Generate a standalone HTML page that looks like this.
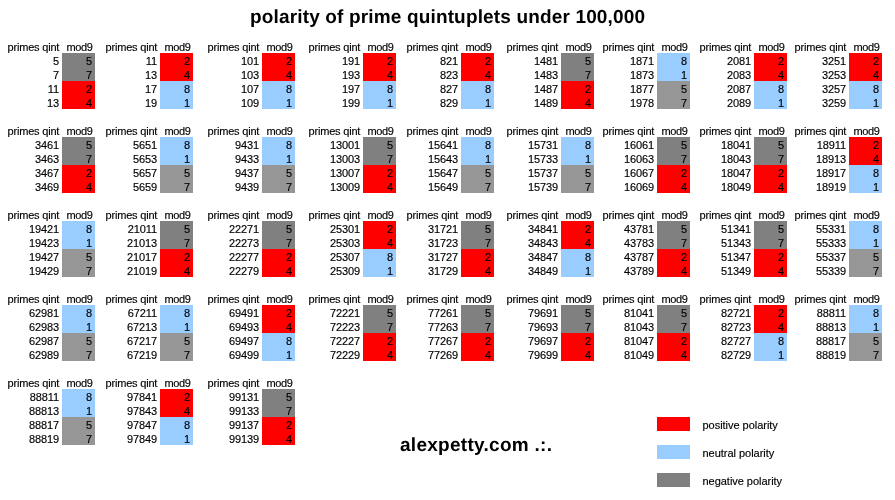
<!DOCTYPE html>
<html><head><meta charset="utf-8"><title>polarity of prime quintuplets under 100,000</title>
<style>
html,body{margin:0;padding:0;background:#fff}
body{width:895px;height:500px;position:relative;overflow:hidden;font-family:"Liberation Sans",Arial,sans-serif;color:#000}
.blk{position:absolute;width:87px;font-size:11px;line-height:14px;-webkit-text-stroke:0.15px #000}
.blk div{height:14px;white-space:nowrap;position:relative}
.blk span{position:absolute;top:0;height:14px}
.blk .p{top:1px}.blk .m{line-height:16px}
.h{top:1px!important}
.p{left:0;width:51px;text-align:right;letter-spacing:-0.12px}
.hp{left:-0.4px;width:54px;text-align:left;letter-spacing:-0.2px}
.m{left:54px;width:30px;padding-right:3px;text-align:right}
.blk .hm{background:none;letter-spacing:-0.4px;line-height:14px;padding-right:2.6px;width:30.4px}
.g{background:#808080}.l{background:#969696}.r{background:#ff0000}.b{background:#99ccff}
.t{position:absolute;font-weight:bold;font-size:19px;line-height:22px;text-rendering:geometricPrecision;white-space:nowrap}
.sw{position:absolute;left:657px;width:33px;height:14px}
.lg{position:absolute;left:702.5px;font-size:11px;line-height:14px;white-space:nowrap;letter-spacing:-0.03px;-webkit-text-stroke:0.15px #000}
</style></head><body>
<div class="t" style="left:250px;top:7px;letter-spacing:0.155px">polarity of prime quintuplets under 100,000</div>
<div class="blk" style="left:8px;top:39px"><div><span class="p hp h">primes qint</span><span class="m hm h">mod9</span></div><div><span class="p">5</span><span class="m g">5</span></div><div><span class="p">7</span><span class="m g">7</span></div><div><span class="p">11</span><span class="m r">2</span></div><div><span class="p">13</span><span class="m r">4</span></div></div>
<div class="blk" style="left:106px;top:39px"><div><span class="p hp h">primes qint</span><span class="m hm h">mod9</span></div><div><span class="p">11</span><span class="m r">2</span></div><div><span class="p">13</span><span class="m r">4</span></div><div><span class="p">17</span><span class="m b">8</span></div><div><span class="p">19</span><span class="m b">1</span></div></div>
<div class="blk" style="left:208px;top:39px"><div><span class="p hp h">primes qint</span><span class="m hm h">mod9</span></div><div><span class="p">101</span><span class="m r">2</span></div><div><span class="p">103</span><span class="m r">4</span></div><div><span class="p">107</span><span class="m b">8</span></div><div><span class="p">109</span><span class="m b">1</span></div></div>
<div class="blk" style="left:309px;top:39px"><div><span class="p hp h">primes qint</span><span class="m hm h">mod9</span></div><div><span class="p">191</span><span class="m r">2</span></div><div><span class="p">193</span><span class="m r">4</span></div><div><span class="p">197</span><span class="m b">8</span></div><div><span class="p">199</span><span class="m b">1</span></div></div>
<div class="blk" style="left:407px;top:39px"><div><span class="p hp h">primes qint</span><span class="m hm h">mod9</span></div><div><span class="p">821</span><span class="m r">2</span></div><div><span class="p">823</span><span class="m r">4</span></div><div><span class="p">827</span><span class="m b">8</span></div><div><span class="p">829</span><span class="m b">1</span></div></div>
<div class="blk" style="left:507px;top:39px"><div><span class="p hp h">primes qint</span><span class="m hm h">mod9</span></div><div><span class="p">1481</span><span class="m g">5</span></div><div><span class="p">1483</span><span class="m g">7</span></div><div><span class="p">1487</span><span class="m r">2</span></div><div><span class="p">1489</span><span class="m r">4</span></div></div>
<div class="blk" style="left:603px;top:39px"><div><span class="p hp h">primes qint</span><span class="m hm h">mod9</span></div><div><span class="p">1871</span><span class="m b">8</span></div><div><span class="p">1873</span><span class="m b">1</span></div><div><span class="p">1877</span><span class="m l">5</span></div><div><span class="p">1978</span><span class="m l">7</span></div></div>
<div class="blk" style="left:700px;top:39px"><div><span class="p hp h">primes qint</span><span class="m hm h">mod9</span></div><div><span class="p">2081</span><span class="m r">2</span></div><div><span class="p">2083</span><span class="m r">4</span></div><div><span class="p">2087</span><span class="m b">8</span></div><div><span class="p">2089</span><span class="m b">1</span></div></div>
<div class="blk" style="left:795px;top:39px"><div><span class="p hp h">primes qint</span><span class="m hm h">mod9</span></div><div><span class="p">3251</span><span class="m r">2</span></div><div><span class="p">3253</span><span class="m r">4</span></div><div><span class="p">3257</span><span class="m b">8</span></div><div><span class="p">3259</span><span class="m b">1</span></div></div>
<div class="blk" style="left:8px;top:123px"><div><span class="p hp h">primes qint</span><span class="m hm h">mod9</span></div><div><span class="p">3461</span><span class="m g">5</span></div><div><span class="p">3463</span><span class="m g">7</span></div><div><span class="p">3467</span><span class="m r">2</span></div><div><span class="p">3469</span><span class="m r">4</span></div></div>
<div class="blk" style="left:106px;top:123px"><div><span class="p hp h">primes qint</span><span class="m hm h">mod9</span></div><div><span class="p">5651</span><span class="m b">8</span></div><div><span class="p">5653</span><span class="m b">1</span></div><div><span class="p">5657</span><span class="m l">5</span></div><div><span class="p">5659</span><span class="m l">7</span></div></div>
<div class="blk" style="left:208px;top:123px"><div><span class="p hp h">primes qint</span><span class="m hm h">mod9</span></div><div><span class="p">9431</span><span class="m b">8</span></div><div><span class="p">9433</span><span class="m b">1</span></div><div><span class="p">9437</span><span class="m l">5</span></div><div><span class="p">9439</span><span class="m l">7</span></div></div>
<div class="blk" style="left:309px;top:123px"><div><span class="p hp h">primes qint</span><span class="m hm h">mod9</span></div><div><span class="p">13001</span><span class="m g">5</span></div><div><span class="p">13003</span><span class="m g">7</span></div><div><span class="p">13007</span><span class="m r">2</span></div><div><span class="p">13009</span><span class="m r">4</span></div></div>
<div class="blk" style="left:407px;top:123px"><div><span class="p hp h">primes qint</span><span class="m hm h">mod9</span></div><div><span class="p">15641</span><span class="m b">8</span></div><div><span class="p">15643</span><span class="m b">1</span></div><div><span class="p">15647</span><span class="m l">5</span></div><div><span class="p">15649</span><span class="m l">7</span></div></div>
<div class="blk" style="left:507px;top:123px"><div><span class="p hp h">primes qint</span><span class="m hm h">mod9</span></div><div><span class="p">15731</span><span class="m b">8</span></div><div><span class="p">15733</span><span class="m b">1</span></div><div><span class="p">15737</span><span class="m l">5</span></div><div><span class="p">15739</span><span class="m l">7</span></div></div>
<div class="blk" style="left:603px;top:123px"><div><span class="p hp h">primes qint</span><span class="m hm h">mod9</span></div><div><span class="p">16061</span><span class="m g">5</span></div><div><span class="p">16063</span><span class="m g">7</span></div><div><span class="p">16067</span><span class="m r">2</span></div><div><span class="p">16069</span><span class="m r">4</span></div></div>
<div class="blk" style="left:700px;top:123px"><div><span class="p hp h">primes qint</span><span class="m hm h">mod9</span></div><div><span class="p">18041</span><span class="m g">5</span></div><div><span class="p">18043</span><span class="m g">7</span></div><div><span class="p">18047</span><span class="m r">2</span></div><div><span class="p">18049</span><span class="m r">4</span></div></div>
<div class="blk" style="left:795px;top:123px"><div><span class="p hp h">primes qint</span><span class="m hm h">mod9</span></div><div><span class="p">18911</span><span class="m r">2</span></div><div><span class="p">18913</span><span class="m r">4</span></div><div><span class="p">18917</span><span class="m b">8</span></div><div><span class="p">18919</span><span class="m b">1</span></div></div>
<div class="blk" style="left:8px;top:207px"><div><span class="p hp h">primes qint</span><span class="m hm h">mod9</span></div><div><span class="p">19421</span><span class="m b">8</span></div><div><span class="p">19423</span><span class="m b">1</span></div><div><span class="p">19427</span><span class="m l">5</span></div><div><span class="p">19429</span><span class="m l">7</span></div></div>
<div class="blk" style="left:106px;top:207px"><div><span class="p hp h">primes qint</span><span class="m hm h">mod9</span></div><div><span class="p">21011</span><span class="m g">5</span></div><div><span class="p">21013</span><span class="m g">7</span></div><div><span class="p">21017</span><span class="m r">2</span></div><div><span class="p">21019</span><span class="m r">4</span></div></div>
<div class="blk" style="left:208px;top:207px"><div><span class="p hp h">primes qint</span><span class="m hm h">mod9</span></div><div><span class="p">22271</span><span class="m g">5</span></div><div><span class="p">22273</span><span class="m g">7</span></div><div><span class="p">22277</span><span class="m r">2</span></div><div><span class="p">22279</span><span class="m r">4</span></div></div>
<div class="blk" style="left:309px;top:207px"><div><span class="p hp h">primes qint</span><span class="m hm h">mod9</span></div><div><span class="p">25301</span><span class="m r">2</span></div><div><span class="p">25303</span><span class="m r">4</span></div><div><span class="p">25307</span><span class="m b">8</span></div><div><span class="p">25309</span><span class="m b">1</span></div></div>
<div class="blk" style="left:407px;top:207px"><div><span class="p hp h">primes qint</span><span class="m hm h">mod9</span></div><div><span class="p">31721</span><span class="m g">5</span></div><div><span class="p">31723</span><span class="m g">7</span></div><div><span class="p">31727</span><span class="m r">2</span></div><div><span class="p">31729</span><span class="m r">4</span></div></div>
<div class="blk" style="left:507px;top:207px"><div><span class="p hp h">primes qint</span><span class="m hm h">mod9</span></div><div><span class="p">34841</span><span class="m r">2</span></div><div><span class="p">34843</span><span class="m r">4</span></div><div><span class="p">34847</span><span class="m b">8</span></div><div><span class="p">34849</span><span class="m b">1</span></div></div>
<div class="blk" style="left:603px;top:207px"><div><span class="p hp h">primes qint</span><span class="m hm h">mod9</span></div><div><span class="p">43781</span><span class="m g">5</span></div><div><span class="p">43783</span><span class="m g">7</span></div><div><span class="p">43787</span><span class="m r">2</span></div><div><span class="p">43789</span><span class="m r">4</span></div></div>
<div class="blk" style="left:700px;top:207px"><div><span class="p hp h">primes qint</span><span class="m hm h">mod9</span></div><div><span class="p">51341</span><span class="m g">5</span></div><div><span class="p">51343</span><span class="m g">7</span></div><div><span class="p">51347</span><span class="m r">2</span></div><div><span class="p">51349</span><span class="m r">4</span></div></div>
<div class="blk" style="left:795px;top:207px"><div><span class="p hp h">primes qint</span><span class="m hm h">mod9</span></div><div><span class="p">55331</span><span class="m b">8</span></div><div><span class="p">55333</span><span class="m b">1</span></div><div><span class="p">55337</span><span class="m l">5</span></div><div><span class="p">55339</span><span class="m l">7</span></div></div>
<div class="blk" style="left:8px;top:291px"><div><span class="p hp h">primes qint</span><span class="m hm h">mod9</span></div><div><span class="p">62981</span><span class="m b">8</span></div><div><span class="p">62983</span><span class="m b">1</span></div><div><span class="p">62987</span><span class="m l">5</span></div><div><span class="p">62989</span><span class="m l">7</span></div></div>
<div class="blk" style="left:106px;top:291px"><div><span class="p hp h">primes qint</span><span class="m hm h">mod9</span></div><div><span class="p">67211</span><span class="m b">8</span></div><div><span class="p">67213</span><span class="m b">1</span></div><div><span class="p">67217</span><span class="m l">5</span></div><div><span class="p">67219</span><span class="m l">7</span></div></div>
<div class="blk" style="left:208px;top:291px"><div><span class="p hp h">primes qint</span><span class="m hm h">mod9</span></div><div><span class="p">69491</span><span class="m r">2</span></div><div><span class="p">69493</span><span class="m r">4</span></div><div><span class="p">69497</span><span class="m b">8</span></div><div><span class="p">69499</span><span class="m b">1</span></div></div>
<div class="blk" style="left:309px;top:291px"><div><span class="p hp h">primes qint</span><span class="m hm h">mod9</span></div><div><span class="p">72221</span><span class="m g">5</span></div><div><span class="p">72223</span><span class="m g">7</span></div><div><span class="p">72227</span><span class="m r">2</span></div><div><span class="p">72229</span><span class="m r">4</span></div></div>
<div class="blk" style="left:407px;top:291px"><div><span class="p hp h">primes qint</span><span class="m hm h">mod9</span></div><div><span class="p">77261</span><span class="m g">5</span></div><div><span class="p">77263</span><span class="m g">7</span></div><div><span class="p">77267</span><span class="m r">2</span></div><div><span class="p">77269</span><span class="m r">4</span></div></div>
<div class="blk" style="left:507px;top:291px"><div><span class="p hp h">primes qint</span><span class="m hm h">mod9</span></div><div><span class="p">79691</span><span class="m g">5</span></div><div><span class="p">79693</span><span class="m g">7</span></div><div><span class="p">79697</span><span class="m r">2</span></div><div><span class="p">79699</span><span class="m r">4</span></div></div>
<div class="blk" style="left:603px;top:291px"><div><span class="p hp h">primes qint</span><span class="m hm h">mod9</span></div><div><span class="p">81041</span><span class="m g">5</span></div><div><span class="p">81043</span><span class="m g">7</span></div><div><span class="p">81047</span><span class="m r">2</span></div><div><span class="p">81049</span><span class="m r">4</span></div></div>
<div class="blk" style="left:700px;top:291px"><div><span class="p hp h">primes qint</span><span class="m hm h">mod9</span></div><div><span class="p">82721</span><span class="m r">2</span></div><div><span class="p">82723</span><span class="m r">4</span></div><div><span class="p">82727</span><span class="m b">8</span></div><div><span class="p">82729</span><span class="m b">1</span></div></div>
<div class="blk" style="left:795px;top:291px"><div><span class="p hp h">primes qint</span><span class="m hm h">mod9</span></div><div><span class="p">88811</span><span class="m b">8</span></div><div><span class="p">88813</span><span class="m b">1</span></div><div><span class="p">88817</span><span class="m l">5</span></div><div><span class="p">88819</span><span class="m l">7</span></div></div>
<div class="blk" style="left:8px;top:375px"><div><span class="p hp h">primes qint</span><span class="m hm h">mod9</span></div><div><span class="p">88811</span><span class="m b">8</span></div><div><span class="p">88813</span><span class="m b">1</span></div><div><span class="p">88817</span><span class="m l">5</span></div><div><span class="p">88819</span><span class="m l">7</span></div></div>
<div class="blk" style="left:106px;top:375px"><div><span class="p hp h">primes qint</span><span class="m hm h">mod9</span></div><div><span class="p">97841</span><span class="m r">2</span></div><div><span class="p">97843</span><span class="m r">4</span></div><div><span class="p">97847</span><span class="m b">8</span></div><div><span class="p">97849</span><span class="m b">1</span></div></div>
<div class="blk" style="left:208px;top:375px"><div><span class="p hp h">primes qint</span><span class="m hm h">mod9</span></div><div><span class="p">99131</span><span class="m g">5</span></div><div><span class="p">99133</span><span class="m g">7</span></div><div><span class="p">99137</span><span class="m r">2</span></div><div><span class="p">99139</span><span class="m r">4</span></div></div>
<div class="t" style="left:400px;top:435px;letter-spacing:0.28px">alexpetty.com .:.</div>
<div class="sw r" style="top:417px"></div><div class="lg" style="top:418px">positive polarity</div>
<div class="sw b" style="top:445px"></div><div class="lg" style="top:446px">neutral polarity</div>
<div class="sw g" style="top:473px"></div><div class="lg" style="top:474px">negative polarity</div>
</body></html>
